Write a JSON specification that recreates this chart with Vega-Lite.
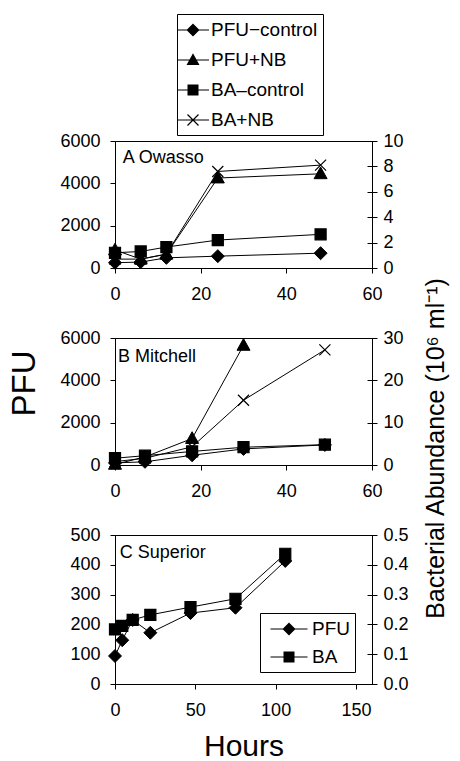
{
  "$schema": "https://vega.github.io/schema/vega-lite/v6.json",
  "background": "white",
  "padding": {"left": 8, "top": 13, "right": 5, "bottom": 2},
  "config": {
    "font": "Liberation Sans",
    "view": {"stroke": "black", "strokeWidth": 1},
    "axis": {"grid": false, "domainColor": "black", "tickColor": "black", "labelColor": "black", "titleColor": "black", "labelFontSize": 18, "labelFont": "Liberation Sans", "titleFont": "Liberation Sans", "titleFontWeight": "normal", "tickSize": 5, "domainWidth": 1, "tickWidth": 1, "labelFlush": false, "labelOverlap": false}
  },
  "datasets": {
    "A": [
      {"t": 0, "series": "PFU-control", "value": 250},
      {"t": 6, "series": "PFU-control", "value": 280},
      {"t": 12, "series": "PFU-control", "value": 480},
      {"t": 24, "series": "PFU-control", "value": 560},
      {"t": 48, "series": "PFU-control", "value": 700},
      {"t": 0, "series": "PFU+NB", "value": 850},
      {"t": 6, "series": "PFU+NB", "value": 420},
      {"t": 12, "series": "PFU+NB", "value": 650},
      {"t": 24, "series": "PFU+NB", "value": 4250},
      {"t": 48, "series": "PFU+NB", "value": 4450},
      {"t": 0, "series": "BA-control", "value": 1.2},
      {"t": 6, "series": "BA-control", "value": 1.3},
      {"t": 12, "series": "BA-control", "value": 1.65},
      {"t": 24, "series": "BA-control", "value": 2.2},
      {"t": 48, "series": "BA-control", "value": 2.65},
      {"t": 0, "series": "BA+NB", "value": 0.7},
      {"t": 6, "series": "BA+NB", "value": 0.7},
      {"t": 12, "series": "BA+NB", "value": 1.1},
      {"t": 24, "series": "BA+NB", "value": 7.6},
      {"t": 48, "series": "BA+NB", "value": 8.1}
    ],
    "B": [
      {"t": 0, "series": "PFU-control", "value": 100},
      {"t": 7, "series": "PFU-control", "value": 150},
      {"t": 18, "series": "PFU-control", "value": 460},
      {"t": 30, "series": "PFU-control", "value": 760},
      {"t": 49, "series": "PFU-control", "value": 950},
      {"t": 0, "series": "PFU+NB", "value": 30},
      {"t": 7, "series": "PFU+NB", "value": 380},
      {"t": 18, "series": "PFU+NB", "value": 1250},
      {"t": 30, "series": "PFU+NB", "value": 5650},
      {"t": 0, "series": "BA-control", "value": 1.6},
      {"t": 7, "series": "BA-control", "value": 2.2},
      {"t": 18, "series": "BA-control", "value": 3.2},
      {"t": 30, "series": "BA-control", "value": 4.2},
      {"t": 49, "series": "BA-control", "value": 4.8},
      {"t": 0, "series": "BA+NB", "value": 0.8},
      {"t": 7, "series": "BA+NB", "value": 1.6},
      {"t": 18, "series": "BA+NB", "value": 4.3},
      {"t": 30, "series": "BA+NB", "value": 15.3},
      {"t": 49, "series": "BA+NB", "value": 27.2}
    ],
    "C": [
      {"t": 0, "series": "PFU", "value": 94},
      {"t": 4.5, "series": "PFU", "value": 147},
      {"t": 11, "series": "PFU", "value": 215},
      {"t": 22, "series": "PFU", "value": 172},
      {"t": 47, "series": "PFU", "value": 238},
      {"t": 75, "series": "PFU", "value": 256},
      {"t": 106, "series": "PFU", "value": 413},
      {"t": 0, "series": "BA", "value": 0.183},
      {"t": 4.5, "series": "BA", "value": 0.195},
      {"t": 11, "series": "BA", "value": 0.215},
      {"t": 22, "series": "BA", "value": 0.232},
      {"t": 47, "series": "BA", "value": 0.258},
      {"t": 75, "series": "BA", "value": 0.286},
      {"t": 106, "series": "BA", "value": 0.437}
    ],
    "labels": [
      {"panel": "A", "t": 1.8, "value": 4950, "label": "A Owasso"},
      {"panel": "B", "t": 0.7, "value": 4870, "label": "B Mitchell"},
      {"panel": "C", "t": 3, "value": 424, "label": "C Superior"}
    ]
  },
  "vconcat": [
    {
      "width": 257, "height": 127,
      "layer": [
        {
          "layer": [
            {
              "data": {"name": "A"},
              "transform": [{"filter": "indexof(datum.series,'PFU')==0"}],
              "mark": {"type": "line", "color": "black", "strokeWidth": 1},
              "encoding": {
                "x": {"field": "t", "type": "quantitative", "scale": {"domain": [0, 60]}, "axis": {"values": [0, 20, 40, 60], "tickCount": 10, "title": null, "labelPadding": 12, "labelOverlap": false}},
                "y": {"field": "value", "type": "quantitative", "scale": {"domain": [0, 6000]}, "axis": {"orient": "left", "values": [0, 2000, 4000, 6000], "tickCount": 10, "format": "d", "title": null, "labelPadding": 10, "labelOverlap": false}},
                "detail": {"field": "series"}
              }
            },
            {
              "data": {"name": "A"},
              "transform": [{"filter": "indexof(datum.series,'PFU')==0"}],
              "mark": {"type": "point", "filled": true, "color": "black", "stroke": "black", "strokeWidth": 1, "opacity": 1, "size": 169},
              "encoding": {
                "x": {"field": "t", "type": "quantitative"},
                "y": {"field": "value", "type": "quantitative"},
                "shape": {"field": "series", "scale": {"domain": ["PFU-control", "PFU+NB"], "range": ["M0,-1L1,0L0,1L-1,0Z", "M0,-1.05L1,0.75L-1,0.75Z"]}, "legend": null}
              }
            },
            {
              "data": {"name": "labels"},
              "transform": [{"filter": "datum.panel=='A'"}],
              "mark": {"type": "text", "align": "left", "baseline": "alphabetic", "fontSize": 18, "color": "black", "font": "Liberation Sans"},
              "encoding": {
                "x": {"field": "t", "type": "quantitative"},
                "y": {"field": "value", "type": "quantitative"},
                "text": {"field": "label"}
              }
            }
          ]
        },
        {
          "layer": [
            {
              "data": {"name": "A"},
              "transform": [{"filter": "indexof(datum.series,'BA')==0"}],
              "mark": {"type": "line", "color": "black", "strokeWidth": 1},
              "encoding": {
                "x": {"field": "t", "type": "quantitative"},
                "y": {"field": "value", "type": "quantitative", "scale": {"domain": [0, 10]}, "axis": {"orient": "right", "values": [0, 2, 4, 6, 8, 10], "tickCount": 10, "title": null, "domain": false, "tickSize": 10, "offset": -5, "labelPadding": 6, "labelOverlap": false}},
                "detail": {"field": "series"}
              }
            },
            {
              "data": {"name": "A"},
              "transform": [{"filter": "indexof(datum.series,'BA')==0"}],
              "mark": {"type": "point", "filled": true, "color": "black", "stroke": "black", "strokeWidth": 1.2, "opacity": 1, "size": 169},
              "encoding": {
                "x": {"field": "t", "type": "quantitative"},
                "y": {"field": "value", "type": "quantitative"},
                "shape": {"field": "series", "scale": {"domain": ["BA-control", "BA+NB"], "range": ["M-0.85,-0.85H0.85V0.85H-0.85Z", "M-0.85,-0.85L0.85,0.85M-0.85,0.85L0.85,-0.85"]}, "legend": null}
              }
            }
          ]
        },
        {
          "data": {"name": "A"},
          "transform": [{"filter": "false"}],
          "mark": {"type": "point", "filled": true, "color": "black", "opacity": 1},
          "encoding": {
            "shape": {
              "field": "series",
              "scale": {"domain": ["PFU-control", "PFU+NB", "BA-control", "BA+NB"], "range": [
                "M-1.6,-0.05H1.6V0.05H-1.6Z M0,-0.65L0.65,0L0,0.65L-0.65,0Z",
                "M-1.6,-0.05H1.6V0.05H-1.6Z M0,-0.68L0.65,0.5L-0.65,0.5Z",
                "M-1.6,-0.05H1.6V0.05H-1.6Z M-0.55,-0.55H0.55V0.55H-0.55Z",
                "M-1.6,-0.05H1.6V0.05H-1.6Z M-0.508,-0.592L0.592,0.508L0.508,0.592L-0.592,-0.508Z M-0.592,0.508L0.508,-0.592L0.592,-0.508L-0.508,0.592Z"
              ]},
              "legend": {
                "orient": "none", "legendX": 62, "legendY": -127, "title": null,
                "padding": 5, "strokeColor": "black", "fillColor": "white",
                "labelFontSize": 19, "labelFont": "Liberation Sans", "labelColor": "black",
                "symbolSize": 400, "rowPadding": 9, "labelOffset": 7,
                "symbolFillColor": "black", "symbolOpacity": 1,
                "labelExpr": "datum.label == 'PFU-control' ? 'PFU\u2212control' : (datum.label == 'BA-control' ? 'BA\u2013control' : datum.label)"
              }
            }
          }
        }
      ],
      "resolve": {"scale": {"y": "independent", "shape": "independent"}}
    },
    {
      "width": 257, "height": 127,
      "layer": [
        {
          "layer": [
            {
              "data": {"name": "B"},
              "transform": [{"filter": "indexof(datum.series,'PFU')==0"}],
              "mark": {"type": "line", "color": "black", "strokeWidth": 1},
              "encoding": {
                "x": {"field": "t", "type": "quantitative", "scale": {"domain": [0, 60]}, "axis": {"values": [0, 20, 40, 60], "tickCount": 10, "title": null, "labelPadding": 12, "labelOverlap": false}},
                "y": {"field": "value", "type": "quantitative", "scale": {"domain": [0, 6000]}, "axis": {"orient": "left", "values": [0, 2000, 4000, 6000], "tickCount": 10, "format": "d", "title": "PFU", "titleFontSize": 33, "titlePadding": 18, "titleY": 45, "labelPadding": 10, "labelOverlap": false}},
                "detail": {"field": "series"}
              }
            },
            {
              "data": {"name": "B"},
              "transform": [{"filter": "indexof(datum.series,'PFU')==0"}],
              "mark": {"type": "point", "filled": true, "color": "black", "stroke": "black", "strokeWidth": 1, "opacity": 1, "size": 169},
              "encoding": {
                "x": {"field": "t", "type": "quantitative"},
                "y": {"field": "value", "type": "quantitative"},
                "shape": {"field": "series", "scale": {"domain": ["PFU-control", "PFU+NB"], "range": ["M0,-1L1,0L0,1L-1,0Z", "M0,-1.05L1,0.75L-1,0.75Z"]}, "legend": null}
              }
            },
            {
              "data": {"name": "labels"},
              "transform": [{"filter": "datum.panel=='B'"}],
              "mark": {"type": "text", "align": "left", "baseline": "alphabetic", "fontSize": 18, "color": "black", "font": "Liberation Sans"},
              "encoding": {
                "x": {"field": "t", "type": "quantitative"},
                "y": {"field": "value", "type": "quantitative"},
                "text": {"field": "label"}
              }
            }
          ]
        },
        {
          "layer": [
            {
              "data": {"name": "B"},
              "transform": [{"filter": "indexof(datum.series,'BA')==0"}],
              "mark": {"type": "line", "color": "black", "strokeWidth": 1},
              "encoding": {
                "x": {"field": "t", "type": "quantitative"},
                "y": {"field": "value", "type": "quantitative", "scale": {"domain": [0, 30]}, "axis": {"orient": "right", "values": [0, 10, 20, 30], "tickCount": 10, "title": "Bacterial Abundance (10\u2076 ml\u207b\u00b9)", "titleFontSize": 25, "titleAngle": 270, "titleBaseline": "top", "titleY": 110, "titlePadding": 20, "domain": false, "tickSize": 10, "offset": -5, "labelPadding": 6, "labelOverlap": false}},
                "detail": {"field": "series"}
              }
            },
            {
              "data": {"name": "B"},
              "transform": [{"filter": "indexof(datum.series,'BA')==0"}],
              "mark": {"type": "point", "filled": true, "color": "black", "stroke": "black", "strokeWidth": 1.2, "opacity": 1, "size": 169},
              "encoding": {
                "x": {"field": "t", "type": "quantitative"},
                "y": {"field": "value", "type": "quantitative"},
                "shape": {"field": "series", "scale": {"domain": ["BA-control", "BA+NB"], "range": ["M-0.85,-0.85H0.85V0.85H-0.85Z", "M-0.85,-0.85L0.85,0.85M-0.85,0.85L0.85,-0.85"]}, "legend": null}
              }
            }
          ]
        }
      ],
      "resolve": {"scale": {"y": "independent", "shape": "independent"}}
    },
    {
      "width": 257, "height": 149,
      "layer": [
        {
          "layer": [
            {
              "data": {"name": "C"},
              "transform": [{"filter": "datum.series=='PFU'"}],
              "mark": {"type": "line", "color": "black", "strokeWidth": 1},
              "encoding": {
                "x": {"field": "t", "type": "quantitative", "scale": {"domain": [0, 150]}, "axis": {"values": [0, 50, 100, 150], "tickCount": 10, "title": "Hours", "titleFontSize": 30, "titlePadding": 12, "labelPadding": 12, "labelOverlap": false}},
                "y": {"field": "value", "type": "quantitative", "scale": {"domain": [0, 500]}, "axis": {"orient": "left", "values": [0, 100, 200, 300, 400, 500], "tickCount": 10, "format": "d", "title": null, "labelPadding": 10, "labelOverlap": false}}
              }
            },
            {
              "data": {"name": "C"},
              "transform": [{"filter": "datum.series=='PFU'"}],
              "mark": {"type": "point", "filled": true, "color": "black", "stroke": "black", "strokeWidth": 1, "opacity": 1, "size": 169},
              "encoding": {
                "x": {"field": "t", "type": "quantitative"},
                "y": {"field": "value", "type": "quantitative"},
                "shape": {"field": "series", "scale": {"domain": ["PFU"], "range": ["M0,-1L1,0L0,1L-1,0Z"]}, "legend": null}
              }
            },
            {
              "data": {"name": "labels"},
              "transform": [{"filter": "datum.panel=='C'"}],
              "mark": {"type": "text", "align": "left", "baseline": "alphabetic", "fontSize": 18, "color": "black", "font": "Liberation Sans"},
              "encoding": {
                "x": {"field": "t", "type": "quantitative"},
                "y": {"field": "value", "type": "quantitative"},
                "text": {"field": "label"}
              }
            }
          ]
        },
        {
          "layer": [
            {
              "data": {"name": "C"},
              "transform": [{"filter": "datum.series=='BA'"}],
              "mark": {"type": "line", "color": "black", "strokeWidth": 1},
              "encoding": {
                "x": {"field": "t", "type": "quantitative"},
                "y": {"field": "value", "type": "quantitative", "scale": {"domain": [0, 0.5]}, "axis": {"orient": "right", "values": [0, 0.1, 0.2, 0.3, 0.4, 0.5], "tickCount": 10, "format": ".1f", "title": null, "domain": false, "tickSize": 10, "offset": -5, "labelPadding": 6, "labelOverlap": false}}
              }
            },
            {
              "data": {"name": "C"},
              "transform": [{"filter": "datum.series=='BA'"}],
              "mark": {"type": "point", "filled": true, "color": "black", "stroke": "black", "strokeWidth": 1.2, "opacity": 1, "size": 169},
              "encoding": {
                "x": {"field": "t", "type": "quantitative"},
                "y": {"field": "value", "type": "quantitative"},
                "shape": {"field": "series", "scale": {"domain": ["BA"], "range": ["M-0.85,-0.85H0.85V0.85H-0.85Z"]}, "legend": null}
              }
            }
          ]
        },
        {
          "data": {"name": "C"},
          "transform": [{"filter": "false"}],
          "mark": {"type": "point", "filled": true, "color": "black", "opacity": 1},
          "encoding": {
            "shape": {
              "field": "series",
              "scale": {"domain": ["PFU", "BA"], "range": [
                "M-1.85,-0.05H1.85V0.05H-1.85Z M0,-0.65L0.65,0L0,0.65L-0.65,0Z",
                "M-1.85,-0.05H1.85V0.05H-1.85Z M-0.55,-0.55H0.55V0.55H-0.55Z"
              ]},
              "legend": {
                "orient": "none", "legendX": 145, "legendY": 78, "title": null,
                "padding": 5, "strokeColor": "black", "fillColor": "white",
                "labelFontSize": 19, "labelFont": "Liberation Sans", "labelColor": "black",
                "symbolSize": 400, "rowPadding": 7, "labelOffset": 12, "symbolOffset": 13,
                "symbolFillColor": "black", "symbolOpacity": 1
              }
            }
          }
        }
      ],
      "resolve": {"scale": {"y": "independent", "shape": "independent"}}
    }
  ],
  "spacing": 70,
  "bounds": "flush",
  "resolve": {"scale": {"x": "independent", "y": "independent", "shape": "independent"}}
}
